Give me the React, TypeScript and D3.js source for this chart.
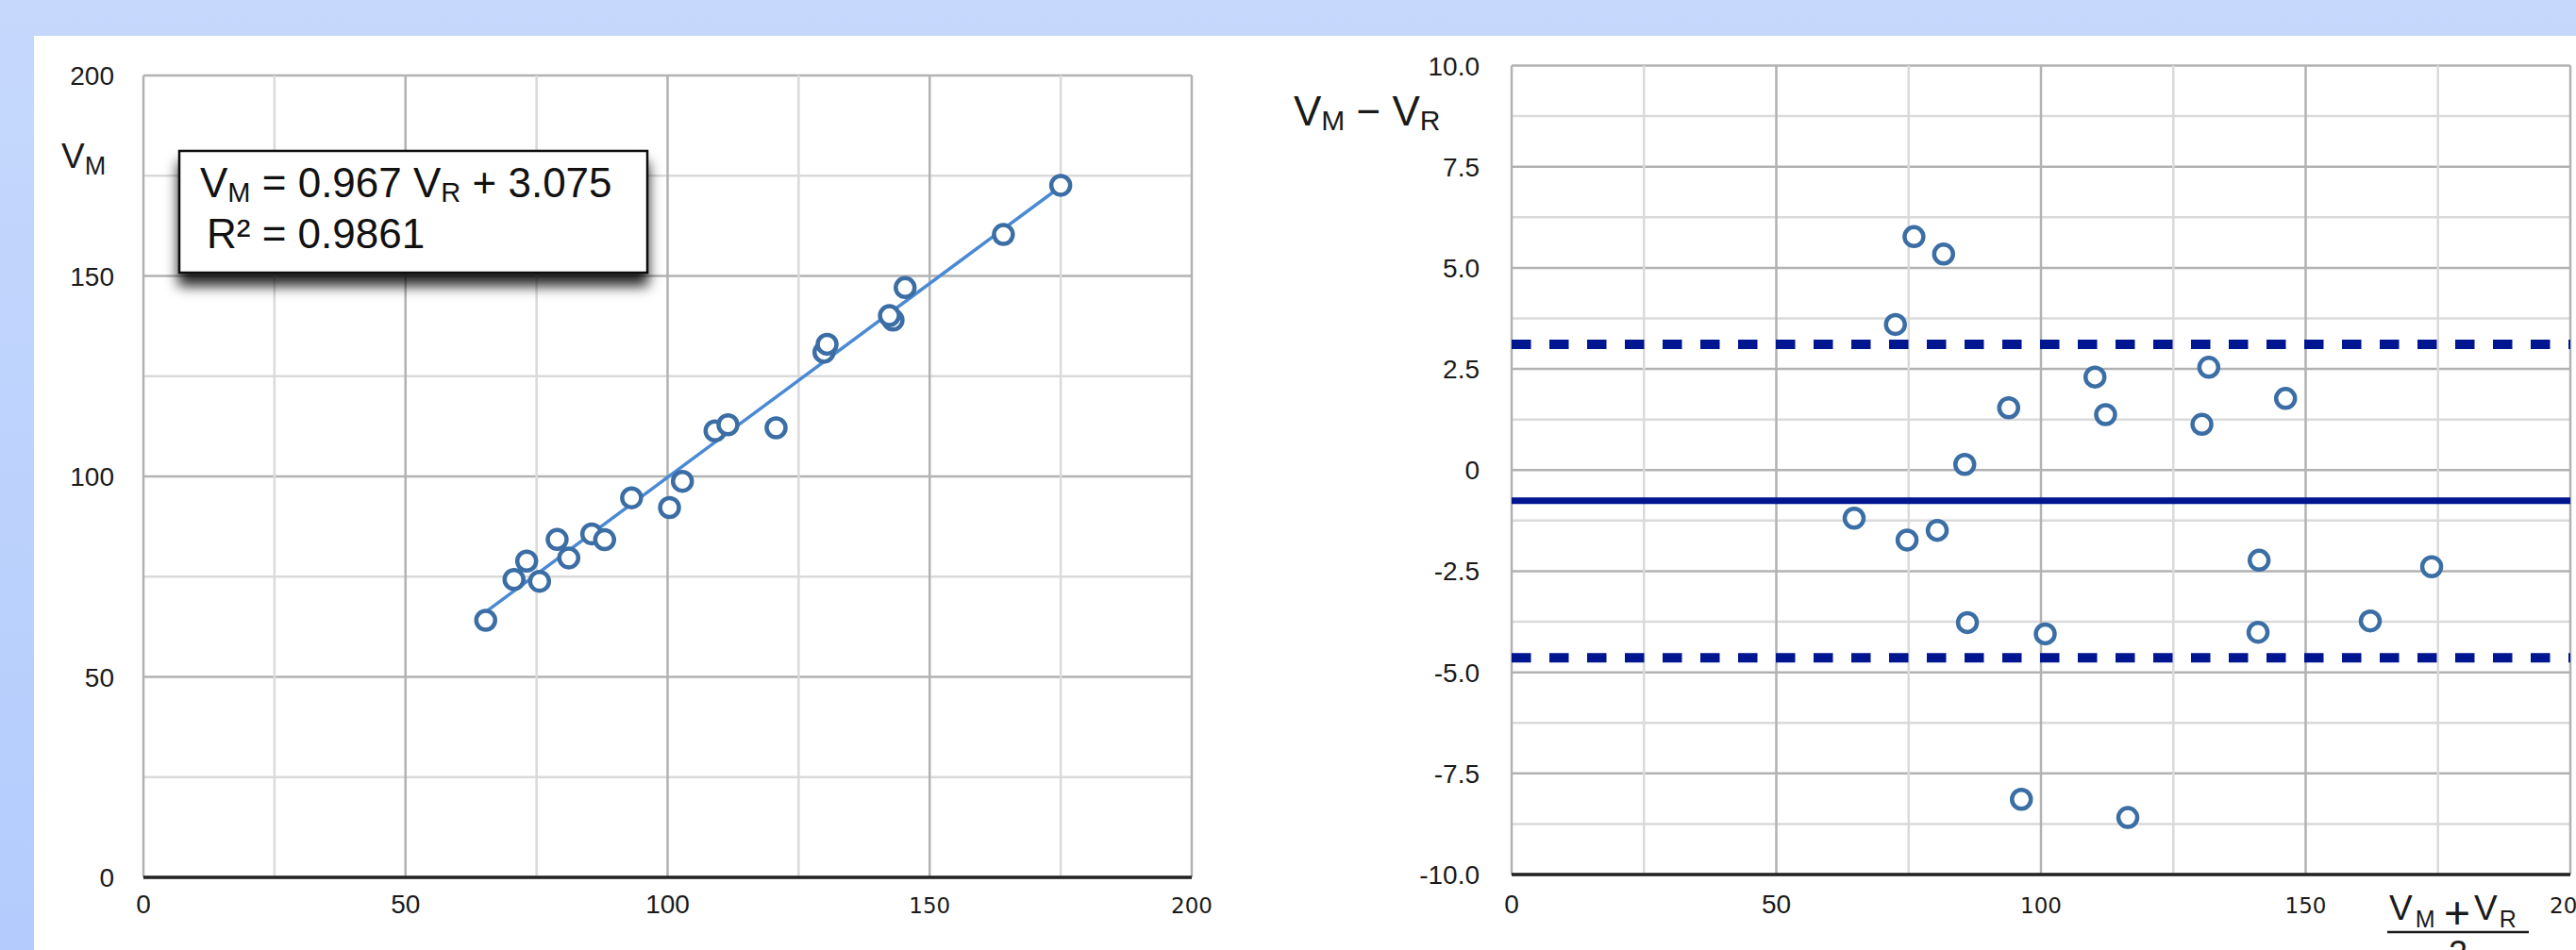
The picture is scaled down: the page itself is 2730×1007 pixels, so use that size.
import React from 'react'
import * as d3 from 'd3'

// paired readings: reference method (V_R) and measured (V_M)
const vR = [65.3, 70.7, 75.57, 73.12, 81.15, 78.93, 85.53, 87.99, 93.13, 100.37, 102.83, 109.05, 111.52, 120.7, 129.84, 130.43, 143.01, 142.32, 145.32, 164.07, 175.0]
const vM = [64.11, 74.3, 73.84, 78.89, 79.66, 84.27, 85.67, 84.22, 94.67, 92.23, 98.78, 111.35, 112.89, 112.11, 130.97, 132.97, 139.0, 140.09, 147.09, 160.34, 172.61]

// regression shown in the box
const fitSlope = 0.967
const fitIntercept = 3.075
const rSquared = 0.9861

// Bland-Altman lines
const meanDiff = -0.76
const upperLimit = 3.11
const lowerLimit = -4.64

const leftXTicks = [0, 50, 100, 150, 200]
const leftYTicks = [0, 50, 100, 150, 200]
const rightXTicks = [0, 50, 100, 150, 200]
const rightYTicks = [10, 7.5, 5, 2.5, 0, -2.5, -5, -7.5, -10]

const W = 2730
const H = 1007
const FONT = '"Liberation Sans", Arial, Helvetica, sans-serif'
const WIDE = '"DejaVu Sans", Verdana, sans-serif'
const MAJOR = '#b2b2b2'
const MINOR = '#dadada'
const DOT = '#3b6ea5'
const NAVY = '#001690'

const Grid = ({ x, y, xStep, xMajor, yStep, yMajor }) => {
  const [x0, x1] = x.domain()
  const [y0, y1] = y.domain()
  const xs = d3.range(x0, x1 + 1e-9, xStep)
  const ys = d3.range(y0, y1 + 1e-9, yStep)
  const isMajor = (v, m) => Math.abs(v / m - Math.round(v / m)) < 1e-6
  return (
    <g>
      {ys.map((v, i) => (
        <line key={'h' + i} x1={x.range()[0]} x2={x.range()[1]} y1={y(v)} y2={y(v)}
          stroke={isMajor(v, yMajor) ? MAJOR : MINOR} strokeWidth={2.5} />
      ))}
      {xs.map((v, i) => (
        <line key={'v' + i} x1={x(v)} x2={x(v)} y1={y.range()[0]} y2={y.range()[1]}
          stroke={isMajor(v, xMajor) ? MAJOR : MINOR} strokeWidth={2.5} />
      ))}
      <line x1={x.range()[0]} x2={x.range()[1]} y1={y.range()[0]} y2={y.range()[0]} stroke="#222" strokeWidth={3.5} />
    </g>
  )
}

export default function App() {
  // left: V_M against V_R
  const x = d3.scaleLinear().domain([0, 200]).range([152, 1263])
  const y = d3.scaleLinear().domain([0, 200]).range([930, 80])

  // right: difference against mean
  const x2 = d3.scaleLinear().domain([0, 200]).range([1602, 2724])
  const y2 = d3.scaleLinear().domain([-10, 10]).range([927, 69.5])

  const pairs = vR.map((r, i) => ({ r, m: vM[i], mean: (r + vM[i]) / 2, diff: vM[i] - r }))
  const [fx0, fx1] = d3.extent(vR)
  const fitLine = d3.line().x(d => x(d)).y(d => y(fitSlope * d + fitIntercept))([fx0, fx1])

  const fmtRight = v => (v === 0 ? '0' : v.toFixed(1))

  return (
    <svg width={W} height={H} style={{ position: 'absolute', left: 0, top: 0 }} fontFamily={FONT}>
      <defs>
        <linearGradient id="bg" x1="0" y1="0" x2="0" y2="1">
          <stop offset="0" stopColor="#c6d8fc" />
          <stop offset="1" stopColor="#b3ccfd" />
        </linearGradient>
        <filter id="shadow" x="-10%" y="-20%" width="120%" height="160%">
          <feDropShadow dx="0" dy="13" stdDeviation="7" floodColor="#000" floodOpacity="0.85" />
        </filter>
      </defs>
      <rect width={W} height={H} fill="url(#bg)" />
      <rect x={36} y={38} width={W - 36} height={H - 38} fill="#fff" />

      {/* left chart */}
      <Grid x={x} y={y} xStep={25} xMajor={50} yStep={25} yMajor={50} />
      {leftYTicks.map(v => (
        <text key={v} x={121} y={y(v) + 10} textAnchor="end" fontSize={28} fill="#1a1a1a">{v}</text>
      ))}
      {leftXTicks.map(v => (
        <text key={v} x={x(v)} y={968} textAnchor="middle" fill="#1a1a1a"
          fontSize={v >= 150 ? 23 : 28} fontFamily={v >= 150 ? WIDE : FONT}>{v}</text>
      ))}
      <text x={65} y={178} fontSize={37} fill="#1a1a1a">V<tspan fontSize={27} dy={7}>M</tspan></text>

      <path d={fitLine} stroke="#4a8ad4" strokeWidth={3.5} fill="none" />
      {pairs.map((p, i) => (
        <circle key={i} cx={x(p.r)} cy={y(p.m)} r={10} fill="#fff" stroke={DOT} strokeWidth={4.5} />
      ))}

      <rect x={190} y={160} width={496} height={129} fill="#fff" stroke="#111" strokeWidth={2.5} filter="url(#shadow)" />
      <text x={212} y={209} fontSize={44} fill="#111">
        V<tspan fontSize={29} dy={5}>M</tspan><tspan dy={-5}>{` = ${fitSlope} V`}</tspan>
        <tspan fontSize={29} dy={5}>R</tspan><tspan dy={-5}>{` + ${fitIntercept}`}</tspan>
      </text>
      <text x={219} y={263} fontSize={44} fill="#111">{`R² = ${rSquared}`}</text>

      {/* right chart */}
      <Grid x={x2} y={y2} xStep={25} xMajor={50} yStep={1.25} yMajor={2.5} />
      {rightYTicks.map(v => (
        <text key={v} x={1568} y={y2(v) + 10} textAnchor="end" fontSize={28} fill="#1a1a1a">{fmtRight(v)}</text>
      ))}
      {rightXTicks.map(v => (
        <text key={v} x={x2(v)} y={968} textAnchor="middle" fill="#1a1a1a"
          fontSize={v >= 100 ? 23 : 28} fontFamily={v >= 100 ? WIDE : FONT}>{v}</text>
      ))}
      <text x={1371} y={133} fontSize={44} fill="#1a1a1a">
        V<tspan fontSize={30} dy={5}>M</tspan><tspan dy={-5}>{' − V'}</tspan><tspan fontSize={30} dy={5}>R</tspan>
      </text>

      {[upperLimit, lowerLimit].map((v, i) => (
        <line key={i} x1={x2(0)} x2={x2(200)} y1={y2(v)} y2={y2(v)} stroke={NAVY} strokeWidth={10} strokeDasharray="20.5 19.5" />
      ))}
      <line x1={x2(0)} x2={x2(200)} y1={y2(meanDiff)} y2={y2(meanDiff)} stroke={NAVY} strokeWidth={7} />

      {pairs.map((p, i) => (
        <circle key={i} cx={x2(p.mean)} cy={y2(p.diff)} r={10} fill="#fff" stroke={DOT} strokeWidth={4.5} />
      ))}

      {/* x label: (V_M + V_R) / 2 */}
      <g fill="#1a1a1a">
        <text x={2532} y={975} fontSize={37}>V<tspan fontSize={25} dx={3} dy={8}>M</tspan></text>
        <text x={2604} y={984} fontSize={48} textAnchor="middle">+</text>
        <text x={2622} y={975} fontSize={37}>V<tspan fontSize={25} dx={2} dy={8}>R</tspan></text>
        <line x1={2530} x2={2680} y1={988} y2={988} stroke="#1a1a1a" strokeWidth={2.5} />
        <text x={2605} y={1023} fontSize={36} textAnchor="middle">2</text>
      </g>
    </svg>
  )
}
